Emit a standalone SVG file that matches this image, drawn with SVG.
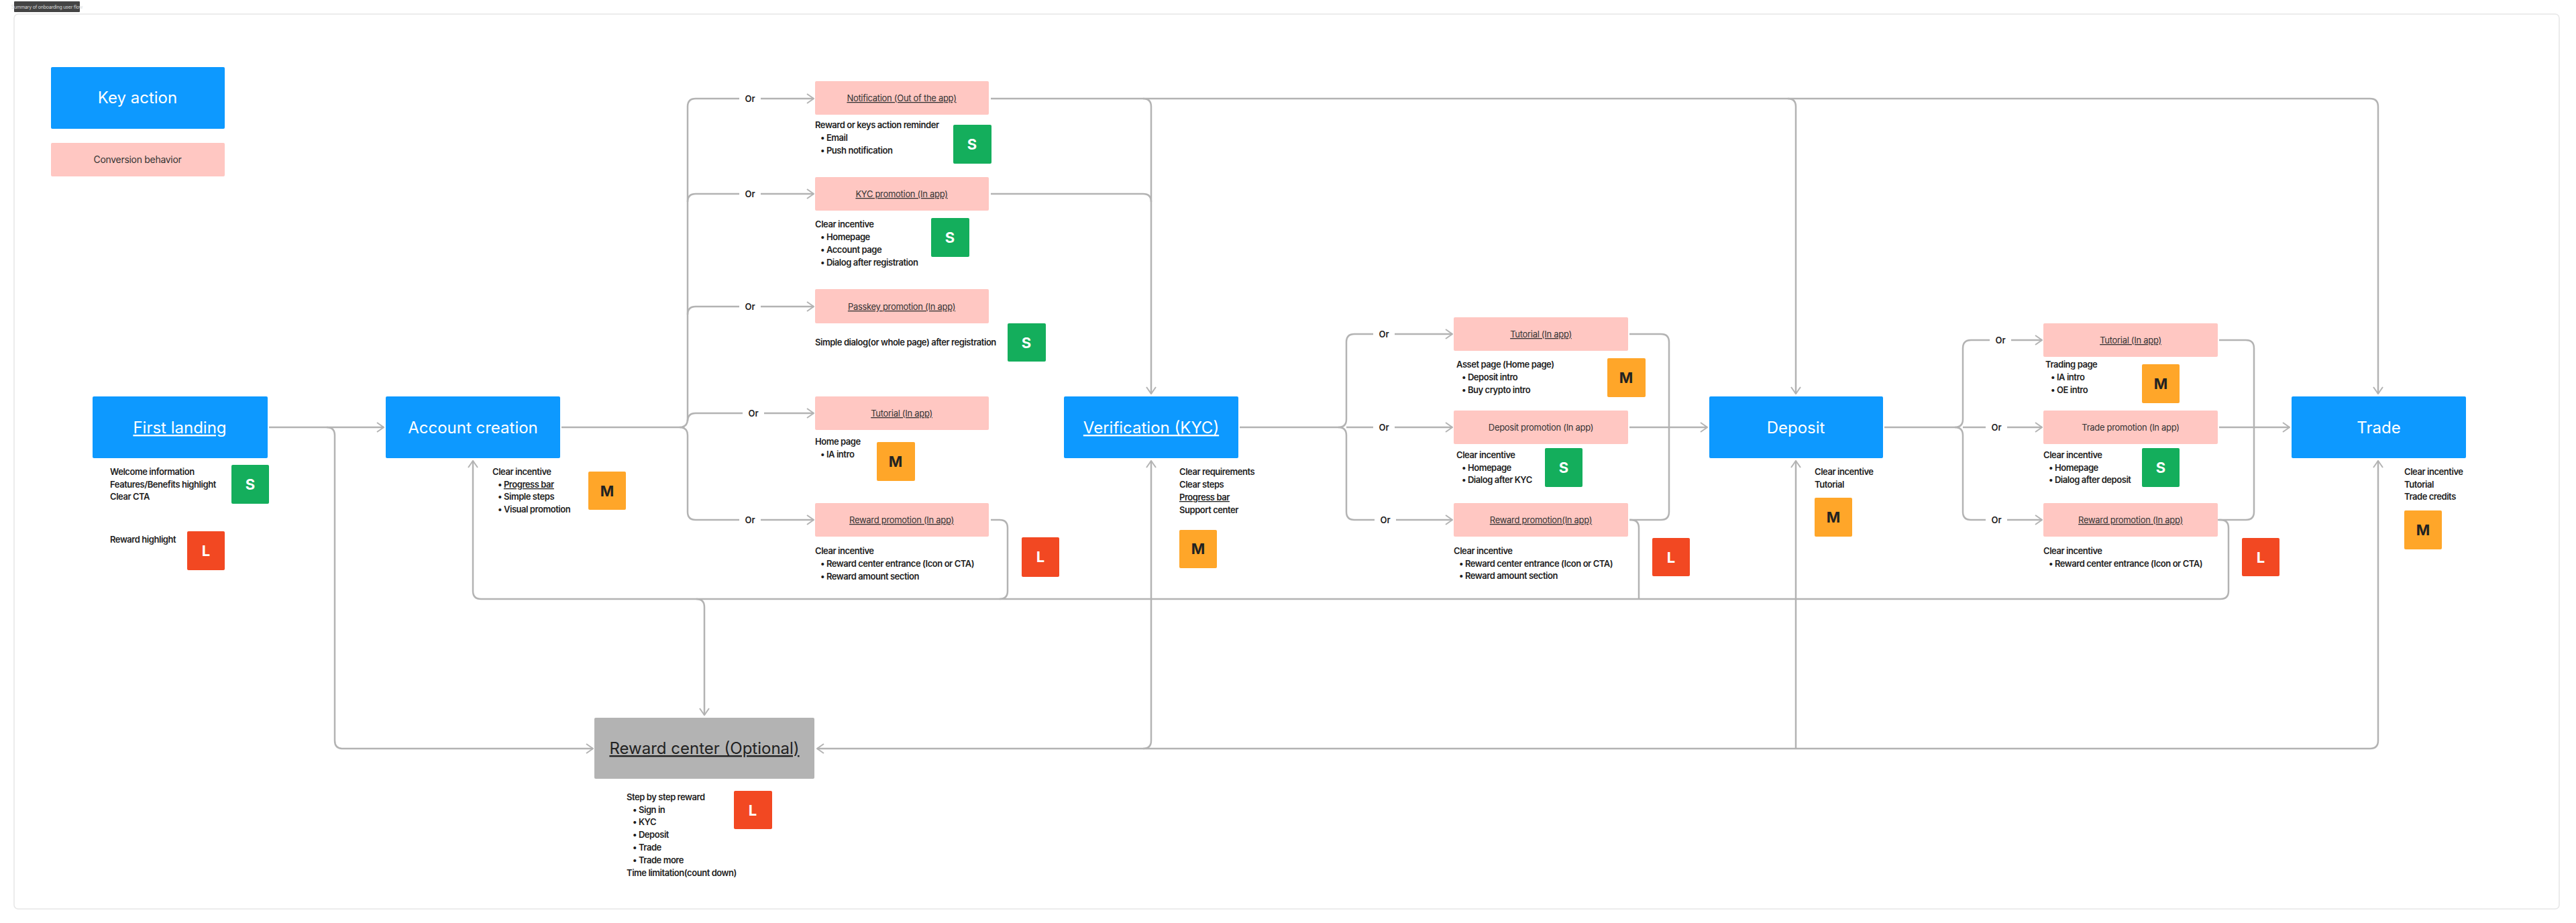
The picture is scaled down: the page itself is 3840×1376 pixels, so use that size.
<svg xmlns="http://www.w3.org/2000/svg" width="3840" height="1376" viewBox="0 0 3840 1376">
<defs>
<marker id="ar" viewBox="0 0 12 16" refX="11" refY="8" markerWidth="12" markerHeight="16" markerUnits="userSpaceOnUse" orient="auto-start-reverse">
<path d="M1,1 L11,8 L1,15" fill="none" stroke="#b3b3b3" stroke-width="2"/>
</marker>
</defs>
<style>
text{font-family:Inter,"Noto Sans","Liberation Sans",sans-serif;}
.ln{fill:none;stroke:#b3b3b3;stroke-width:2.5;}
.blue{fill:#0d99ff;}
.pink{fill:#ffc7c2;}
.bt{fill:#fff;font-size:24px;text-anchor:middle;}
.pt{fill:#333;font-size:13px;text-anchor:middle;letter-spacing:-0.3px;}
.u{text-decoration:underline;}
.s{fill:#1e1e1e;font-size:13px;font-weight:600;letter-spacing:-0.45px;}
.or{fill:#1e1e1e;font-size:13px;font-weight:600;text-anchor:middle;}
.bg{fill:#14ae5c;}.bm{fill:#ffa629;}.bl{fill:#f24822;}
.bx{font-size:22px;font-weight:700;text-anchor:middle;}
</style>
<rect width="3840" height="1376" fill="#fff"/>
<rect x="21" y="21" width="3794" height="1334" rx="6" fill="#fff" stroke="#e6e6e6" stroke-width="1.5"/>
<g id="title"><rect x="21" y="2" width="98" height="16" rx="1" fill="#444"/><text x="70" y="13" fill="#ddd" font-size="7" text-anchor="middle" letter-spacing="-0.2">Summary of onboarding user flow</text></g>

<g id="connectors">
<path class="ln" d="M401,637 H572" marker-end="url(#ar)"/>
<path class="ln" d="M487,637 Q499,637 499,649 V1104 Q499,1116 511,1116 H884" marker-end="url(#ar)"/>
<path class="ln" d="M837,637 H1013 Q1025,637 1025,625 V159 Q1025,147 1037,147 H1213" marker-end="url(#ar)"/>
<path class="ln" d="M1025,301 Q1025,289 1037,289 H1213" marker-end="url(#ar)"/>
<path class="ln" d="M1025,469 Q1025,457 1037,457 H1213" marker-end="url(#ar)"/>
<path class="ln" d="M1025,628 Q1025,616 1037,616 H1213" marker-end="url(#ar)"/>
<path class="ln" d="M1013,637 Q1025,637 1025,649 V763 Q1025,775 1037,775 H1213" marker-end="url(#ar)"/>
<path class="ln" d="M1477,147 H3533 Q3545,147 3545,159 V587" marker-end="url(#ar)"/>
<path class="ln" d="M1704,147 Q1716,147 1716,159 V587" marker-end="url(#ar)"/>
<path class="ln" d="M1477,289 H1704 Q1716,289 1716,301"/>
<path class="ln" d="M2665,147 Q2677,147 2677,159 V587" marker-end="url(#ar)"/>
<path class="ln" d="M1477,775 H1490 Q1502,775 1502,787 V881 Q1502,893 1490,893"/>
<path class="ln" d="M3306,775 H3310 Q3322,775 3322,787 V881 Q3322,893 3310,893 H717 Q705,893 705,881 V687" marker-end="url(#ar)"/>
<path class="ln" d="M1038,893 Q1050,893 1050,905 V1066" marker-end="url(#ar)"/>
<path class="ln" d="M2429,775 H2431 Q2443,775 2443,787 V893"/>
<path class="ln" d="M1218,1116 H3533 Q3545,1116 3545,1104 V687" marker-start="url(#ar)" marker-end="url(#ar)"/>
<path class="ln" d="M1704,1116 Q1716,1116 1716,1104 V687" marker-end="url(#ar)"/>
<path class="ln" d="M2677,1116 V687" marker-end="url(#ar)"/>
<path class="ln" d="M1848,637 H1995 Q2007,637 2007,625 V510 Q2007,498 2019,498 H2165" marker-end="url(#ar)"/>
<path class="ln" d="M2007,637 H2165" marker-end="url(#ar)"/>
<path class="ln" d="M1995,637 Q2007,637 2007,649 V763 Q2007,775 2019,775 H2165" marker-end="url(#ar)"/>
<path class="ln" d="M2429,498 H2476 Q2488,498 2488,510 V763 Q2488,775 2476,775 H2429"/>
<path class="ln" d="M2429,637 H2545" marker-end="url(#ar)"/>
<path class="ln" d="M2809,637 H2914 Q2926,637 2926,625 V519 Q2926,507 2938,507 H3044" marker-end="url(#ar)"/>
<path class="ln" d="M2926,637 H3044" marker-end="url(#ar)"/>
<path class="ln" d="M2914,637 Q2926,637 2926,649 V763 Q2926,775 2938,775 H3044" marker-end="url(#ar)"/>
<path class="ln" d="M3308,507 H3348 Q3360,507 3360,519 V763 Q3360,775 3348,775 H3308"/>
<path class="ln" d="M3308,637 H3413" marker-end="url(#ar)"/>
<g>
<rect x="1102" y="138" width="32" height="18" fill="#fff"/><text class="or" x="1118" y="152">Or</text>
<rect x="1102" y="280" width="32" height="18" fill="#fff"/><text class="or" x="1118" y="294">Or</text>
<rect x="1102" y="448" width="32" height="18" fill="#fff"/><text class="or" x="1118" y="462">Or</text>
<rect x="1107" y="607" width="32" height="18" fill="#fff"/><text class="or" x="1123" y="621">Or</text>
<rect x="1102" y="766" width="32" height="18" fill="#fff"/><text class="or" x="1118" y="780">Or</text>
<rect x="2047" y="489" width="32" height="18" fill="#fff"/><text class="or" x="2063" y="503">Or</text>
<rect x="2047" y="628" width="32" height="18" fill="#fff"/><text class="or" x="2063" y="642">Or</text>
<rect x="2049" y="766" width="32" height="18" fill="#fff"/><text class="or" x="2065" y="780">Or</text>
<rect x="2966" y="498" width="32" height="18" fill="#fff"/><text class="or" x="2982" y="512">Or</text>
<rect x="2960" y="628" width="32" height="18" fill="#fff"/><text class="or" x="2976" y="642">Or</text>
<rect x="2960" y="766" width="32" height="18" fill="#fff"/><text class="or" x="2976" y="780">Or</text>
</g>
</g>

<g id="legend-key"><rect class="blue" x="76" y="100" width="259" height="92" rx="2"/><text class="bt" x="205" y="154">Key action</text></g>
<g id="legend-conv"><rect class="pink" x="76" y="213" width="259" height="50" rx="2"/><text x="205" y="243" fill="#333" font-size="14" text-anchor="middle" letter-spacing="-0.3">Conversion behavior</text></g>

<g id="first-landing"><rect class="blue" x="138" y="591" width="261" height="92" rx="2"/><text class="bt u" x="268" y="646">First landing</text>
<text class="s" x="164" y="708">Welcome information</text><text class="s" x="164" y="727">Features/Benefits highlight</text><text class="s" x="164" y="745">Clear CTA</text>
<rect class="bg" x="345" y="693" width="56" height="58" rx="2"/><text class="bx" x="373" y="730" fill="#fff">S</text>
<text class="s" x="164" y="809">Reward highlight</text>
<rect class="bl" x="279" y="792" width="56" height="58" rx="2"/><text class="bx" x="307" y="829" fill="#fff">L</text></g>

<g id="account-creation"><rect class="blue" x="575" y="591" width="260" height="92" rx="2"/><text class="bt" x="705" y="646">Account creation</text>
<text class="s" x="734" y="708">Clear incentive</text>
<text class="s" x="742" y="727">•  <tspan class="u">Progress bar</tspan></text><text class="s" x="742" y="745">•  Simple steps</text><text class="s" x="742" y="764">•  Visual promotion</text>
<rect class="bm" x="877" y="703" width="56" height="57" rx="2"/><text class="bx" x="905" y="740" fill="#222">M</text></g>

<g id="notification"><rect class="pink" x="1215" y="121" width="259" height="50" rx="2"/><text class="pt u" x="1344" y="151">Notification (Out of the app)</text>
<text class="s" x="1215" y="191">Reward or keys action reminder</text><text class="s" x="1223" y="210">•  Email</text><text class="s" x="1223" y="229">•  Push notification</text>
<rect class="bg" x="1421" y="186" width="57" height="58" rx="2"/><text class="bx" x="1449" y="223" fill="#fff">S</text></g>

<g id="kyc-promo"><rect class="pink" x="1215" y="264" width="259" height="50" rx="2"/><text class="pt u" x="1344" y="294">KYC promotion (In app)</text>
<text class="s" x="1215" y="339">Clear incentive</text><text class="s" x="1223" y="358">•  Homepage</text><text class="s" x="1223" y="377">•  Account page</text><text class="s" x="1223" y="396">•  Dialog after registration</text>
<rect class="bg" x="1388" y="325" width="57" height="58" rx="2"/><text class="bx" x="1416" y="362" fill="#fff">S</text></g>

<g id="passkey-promo"><rect class="pink" x="1215" y="431" width="259" height="51" rx="2"/><text class="pt u" x="1344" y="462">Passkey promotion (In app)</text>
<text class="s" x="1215" y="515">Simple dialog(or whole page) after registration</text>
<rect class="bg" x="1502" y="482" width="57" height="57" rx="2"/><text class="bx" x="1530" y="519" fill="#fff">S</text></g>

<g id="tutorial-1"><rect class="pink" x="1215" y="591" width="259" height="50" rx="2"/><text class="pt u" x="1344" y="621">Tutorial (In app)</text>
<text class="s" x="1215" y="663">Home page</text><text class="s" x="1223" y="682">•  IA intro</text>
<rect class="bm" x="1307" y="659" width="57" height="58" rx="2"/><text class="bx" x="1335" y="696" fill="#222">M</text></g>

<g id="reward-promo-1"><rect class="pink" x="1215" y="750" width="259" height="50" rx="2"/><text class="pt u" x="1344" y="780">Reward promotion (In app)</text>
<text class="s" x="1215" y="826">Clear incentive</text><text class="s" x="1223" y="845">•  Reward center entrance (Icon or CTA)</text><text class="s" x="1223" y="864">•  Reward amount section</text>
<rect class="bl" x="1523" y="801" width="56" height="59" rx="2"/><text class="bx" x="1551" y="838" fill="#fff">L</text></g>

<g id="kyc"><rect class="blue" x="1586" y="591" width="260" height="92" rx="2"/><text class="bt u" x="1716" y="646">Verification (KYC)</text>
<text class="s" x="1758" y="708">Clear requirements</text><text class="s" x="1758" y="727">Clear steps</text><text class="s u" x="1758" y="746">Progress bar</text><text class="s" x="1758" y="765">Support center</text>
<rect class="bm" x="1758" y="790" width="56" height="57" rx="2"/><text class="bx" x="1786" y="826" fill="#222">M</text></g>

<g id="tutorial-2"><rect class="pink" x="2167" y="473" width="260" height="50" rx="2"/><text class="pt u" x="2297" y="503">Tutorial (In app)</text>
<text class="s" x="2171" y="548">Asset page (Home page)</text><text class="s" x="2179" y="567">•  Deposit intro</text><text class="s" x="2179" y="586">•  Buy crypto intro</text>
<rect class="bm" x="2396" y="534" width="57" height="58" rx="2"/><text class="bx" x="2424" y="571" fill="#222">M</text></g>

<g id="deposit-promo"><rect class="pink" x="2167" y="612" width="260" height="50" rx="2"/><text class="pt" x="2297" y="642">Deposit promotion (In app)</text>
<text class="s" x="2171" y="683">Clear incentive</text><text class="s" x="2179" y="702">•  Homepage</text><text class="s" x="2179" y="720">•  Dialog after KYC</text>
<rect class="bg" x="2303" y="668" width="56" height="58" rx="2"/><text class="bx" x="2331" y="705" fill="#fff">S</text></g>

<g id="reward-promo-2"><rect class="pink" x="2167" y="750" width="260" height="50" rx="2"/><text class="pt u" x="2297" y="780">Reward promotion(In app)</text>
<text class="s" x="2167" y="826">Clear incentive</text><text class="s" x="2175" y="845">•  Reward center entrance (Icon or CTA)</text><text class="s" x="2175" y="863">•  Reward amount section</text>
<rect class="bl" x="2463" y="802" width="56" height="57" rx="2"/><text class="bx" x="2491" y="839" fill="#fff">L</text></g>

<g id="deposit"><rect class="blue" x="2548" y="591" width="259" height="92" rx="2"/><text class="bt" x="2677" y="646">Deposit</text>
<text class="s" x="2705" y="708">Clear incentive</text><text class="s" x="2705" y="727">Tutorial</text>
<rect class="bm" x="2705" y="742" width="56" height="58" rx="2"/><text class="bx" x="2733" y="779" fill="#222">M</text></g>

<g id="tutorial-3"><rect class="pink" x="3046" y="482" width="260" height="50" rx="2"/><text class="pt u" x="3176" y="512">Tutorial (In app)</text>
<text class="s" x="3049" y="548">Trading page</text><text class="s" x="3057" y="567">•  IA intro</text><text class="s" x="3057" y="586">•  OE intro</text>
<rect class="bm" x="3193" y="543" width="56" height="58" rx="2"/><text class="bx" x="3221" y="580" fill="#222">M</text></g>

<g id="trade-promo"><rect class="pink" x="3046" y="612" width="260" height="50" rx="2"/><text class="pt" x="3176" y="642">Trade promotion (In app)</text>
<text class="s" x="3046" y="683">Clear incentive</text><text class="s" x="3054" y="702">•  Homepage</text><text class="s" x="3054" y="720">•  Dialog after deposit</text>
<rect class="bg" x="3193" y="668" width="56" height="58" rx="2"/><text class="bx" x="3221" y="705" fill="#fff">S</text></g>

<g id="reward-promo-3"><rect class="pink" x="3046" y="750" width="260" height="50" rx="2"/><text class="pt u" x="3176" y="780">Reward promotion (In app)</text>
<text class="s" x="3046" y="826">Clear incentive</text><text class="s" x="3054" y="845">•  Reward center entrance (Icon or CTA)</text>
<rect class="bl" x="3342" y="802" width="56" height="57" rx="2"/><text class="bx" x="3370" y="839" fill="#fff">L</text></g>

<g id="trade"><rect class="blue" x="3416" y="591" width="260" height="92" rx="2"/><text class="bt" x="3546" y="646">Trade</text>
<text class="s" x="3584" y="708">Clear incentive</text><text class="s" x="3584" y="727">Tutorial</text><text class="s" x="3584" y="745">Trade credits</text>
<rect class="bm" x="3584" y="761" width="56" height="58" rx="2"/><text class="bx" x="3612" y="798" fill="#222">M</text></g>

<g id="reward-center"><rect x="886" y="1070" width="328" height="91" rx="2" fill="#b3b3b3"/><text class="u" x="1050" y="1124" fill="#222" font-size="24" text-anchor="middle">Reward center (Optional)</text>
<text class="s" x="934" y="1193">Step by step reward</text><text class="s" x="943" y="1212">•  Sign in</text><text class="s" x="943" y="1230">•  KYC</text><text class="s" x="943" y="1249">•  Deposit</text><text class="s" x="943" y="1268">•  Trade</text><text class="s" x="943" y="1287">•  Trade more</text><text class="s" x="934" y="1306">Time limitation(count down)</text>
<rect class="bl" x="1094" y="1179" width="57" height="57" rx="2"/><text class="bx" x="1122" y="1216" fill="#fff">L</text></g>
</svg>
